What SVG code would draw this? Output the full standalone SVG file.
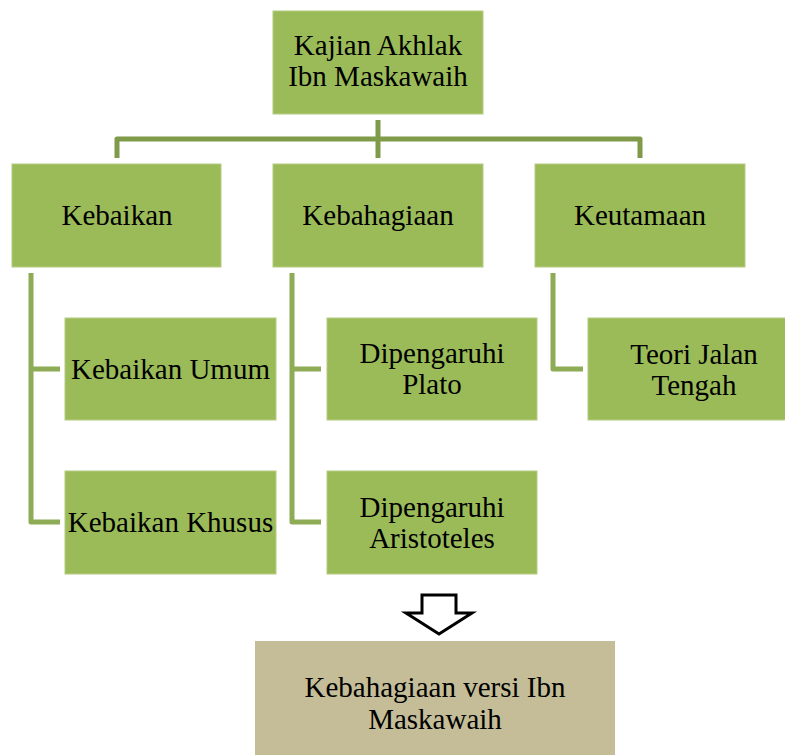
<svg xmlns="http://www.w3.org/2000/svg" width="785" height="755" viewBox="0 0 785 755">
<style>
.box{fill:#9BBB59;stroke:#B5CC82;stroke-width:1}
.fin{fill:#C4BD97}
.t{font-family:'Liberation Serif','DejaVu Serif',serif;font-size:29px;fill:#000;text-anchor:middle}
.c1{fill:none;stroke:#7F9A48;stroke-width:5;stroke-linejoin:round}
.c2{fill:none;stroke:#8EAC55;stroke-width:5;stroke-linejoin:round}
</style>
<rect width="785" height="755" fill="#fff"/>
<g id="connectors">
<path class="c1" d="M378,120 V158"/>
<path class="c1" d="M117,158 V139 H640 V158"/>
<path class="c2" d="M31,273 V522 H60 M31,369 H60"/>
<path class="c2" d="M292,273 V522 H321 M292,369 H321"/>
<path class="c2" d="M553,273 V369 H583"/>
</g>
<g id="n-root"><rect class="box" x="273" y="11" width="210" height="103"/><text class="t" x="378" y="55">Kajian Akhlak</text><text class="t" x="378" y="86">Ibn Maskawaih</text></g>
<g id="n-kebaikan"><rect class="box" x="12" y="164" width="209" height="103"/><text class="t" x="117" y="225">Kebaikan</text></g>
<g id="n-kebahagiaan"><rect class="box" x="273" y="164" width="210" height="103"/><text class="t" x="378" y="225">Kebahagiaan</text></g>
<g id="n-keutamaan"><rect class="box" x="535" y="164" width="210" height="103"/><text class="t" x="640" y="225">Keutamaan</text></g>
<g id="n-umum"><rect class="box" x="65" y="318" width="211" height="102"/><text class="t" x="170.5" y="379">Kebaikan Umum</text></g>
<g id="n-khusus"><rect class="box" x="65" y="471" width="211" height="103"/><text class="t" x="170.5" y="532">Kebaikan Khusus</text></g>
<g id="n-plato"><rect class="box" x="327" y="318" width="210" height="102"/><text class="t" x="432" y="363">Dipengaruhi</text><text class="t" x="432" y="394">Plato</text></g>
<g id="n-aristoteles"><rect class="box" x="327" y="471" width="210" height="103"/><text class="t" x="432" y="517">Dipengaruhi</text><text class="t" x="432" y="548">Aristoteles</text></g>
<g id="n-tengah"><rect class="box" x="588" y="318" width="212" height="102"/><text class="t" x="694" y="364">Teori Jalan</text><text class="t" x="694" y="395">Tengah</text></g>
<g id="arrow"><path d="M422,595 H456 V613 H472 L439,634 L406,613 H422 Z" fill="#fff" stroke="#000" stroke-width="3" stroke-linejoin="miter"/></g>
<g id="n-final"><rect class="fin" x="255" y="641" width="360" height="114"/><text class="t" x="435" y="697">Kebahagiaan versi Ibn</text><text class="t" x="435" y="729">Maskawaih</text></g>
</svg>
